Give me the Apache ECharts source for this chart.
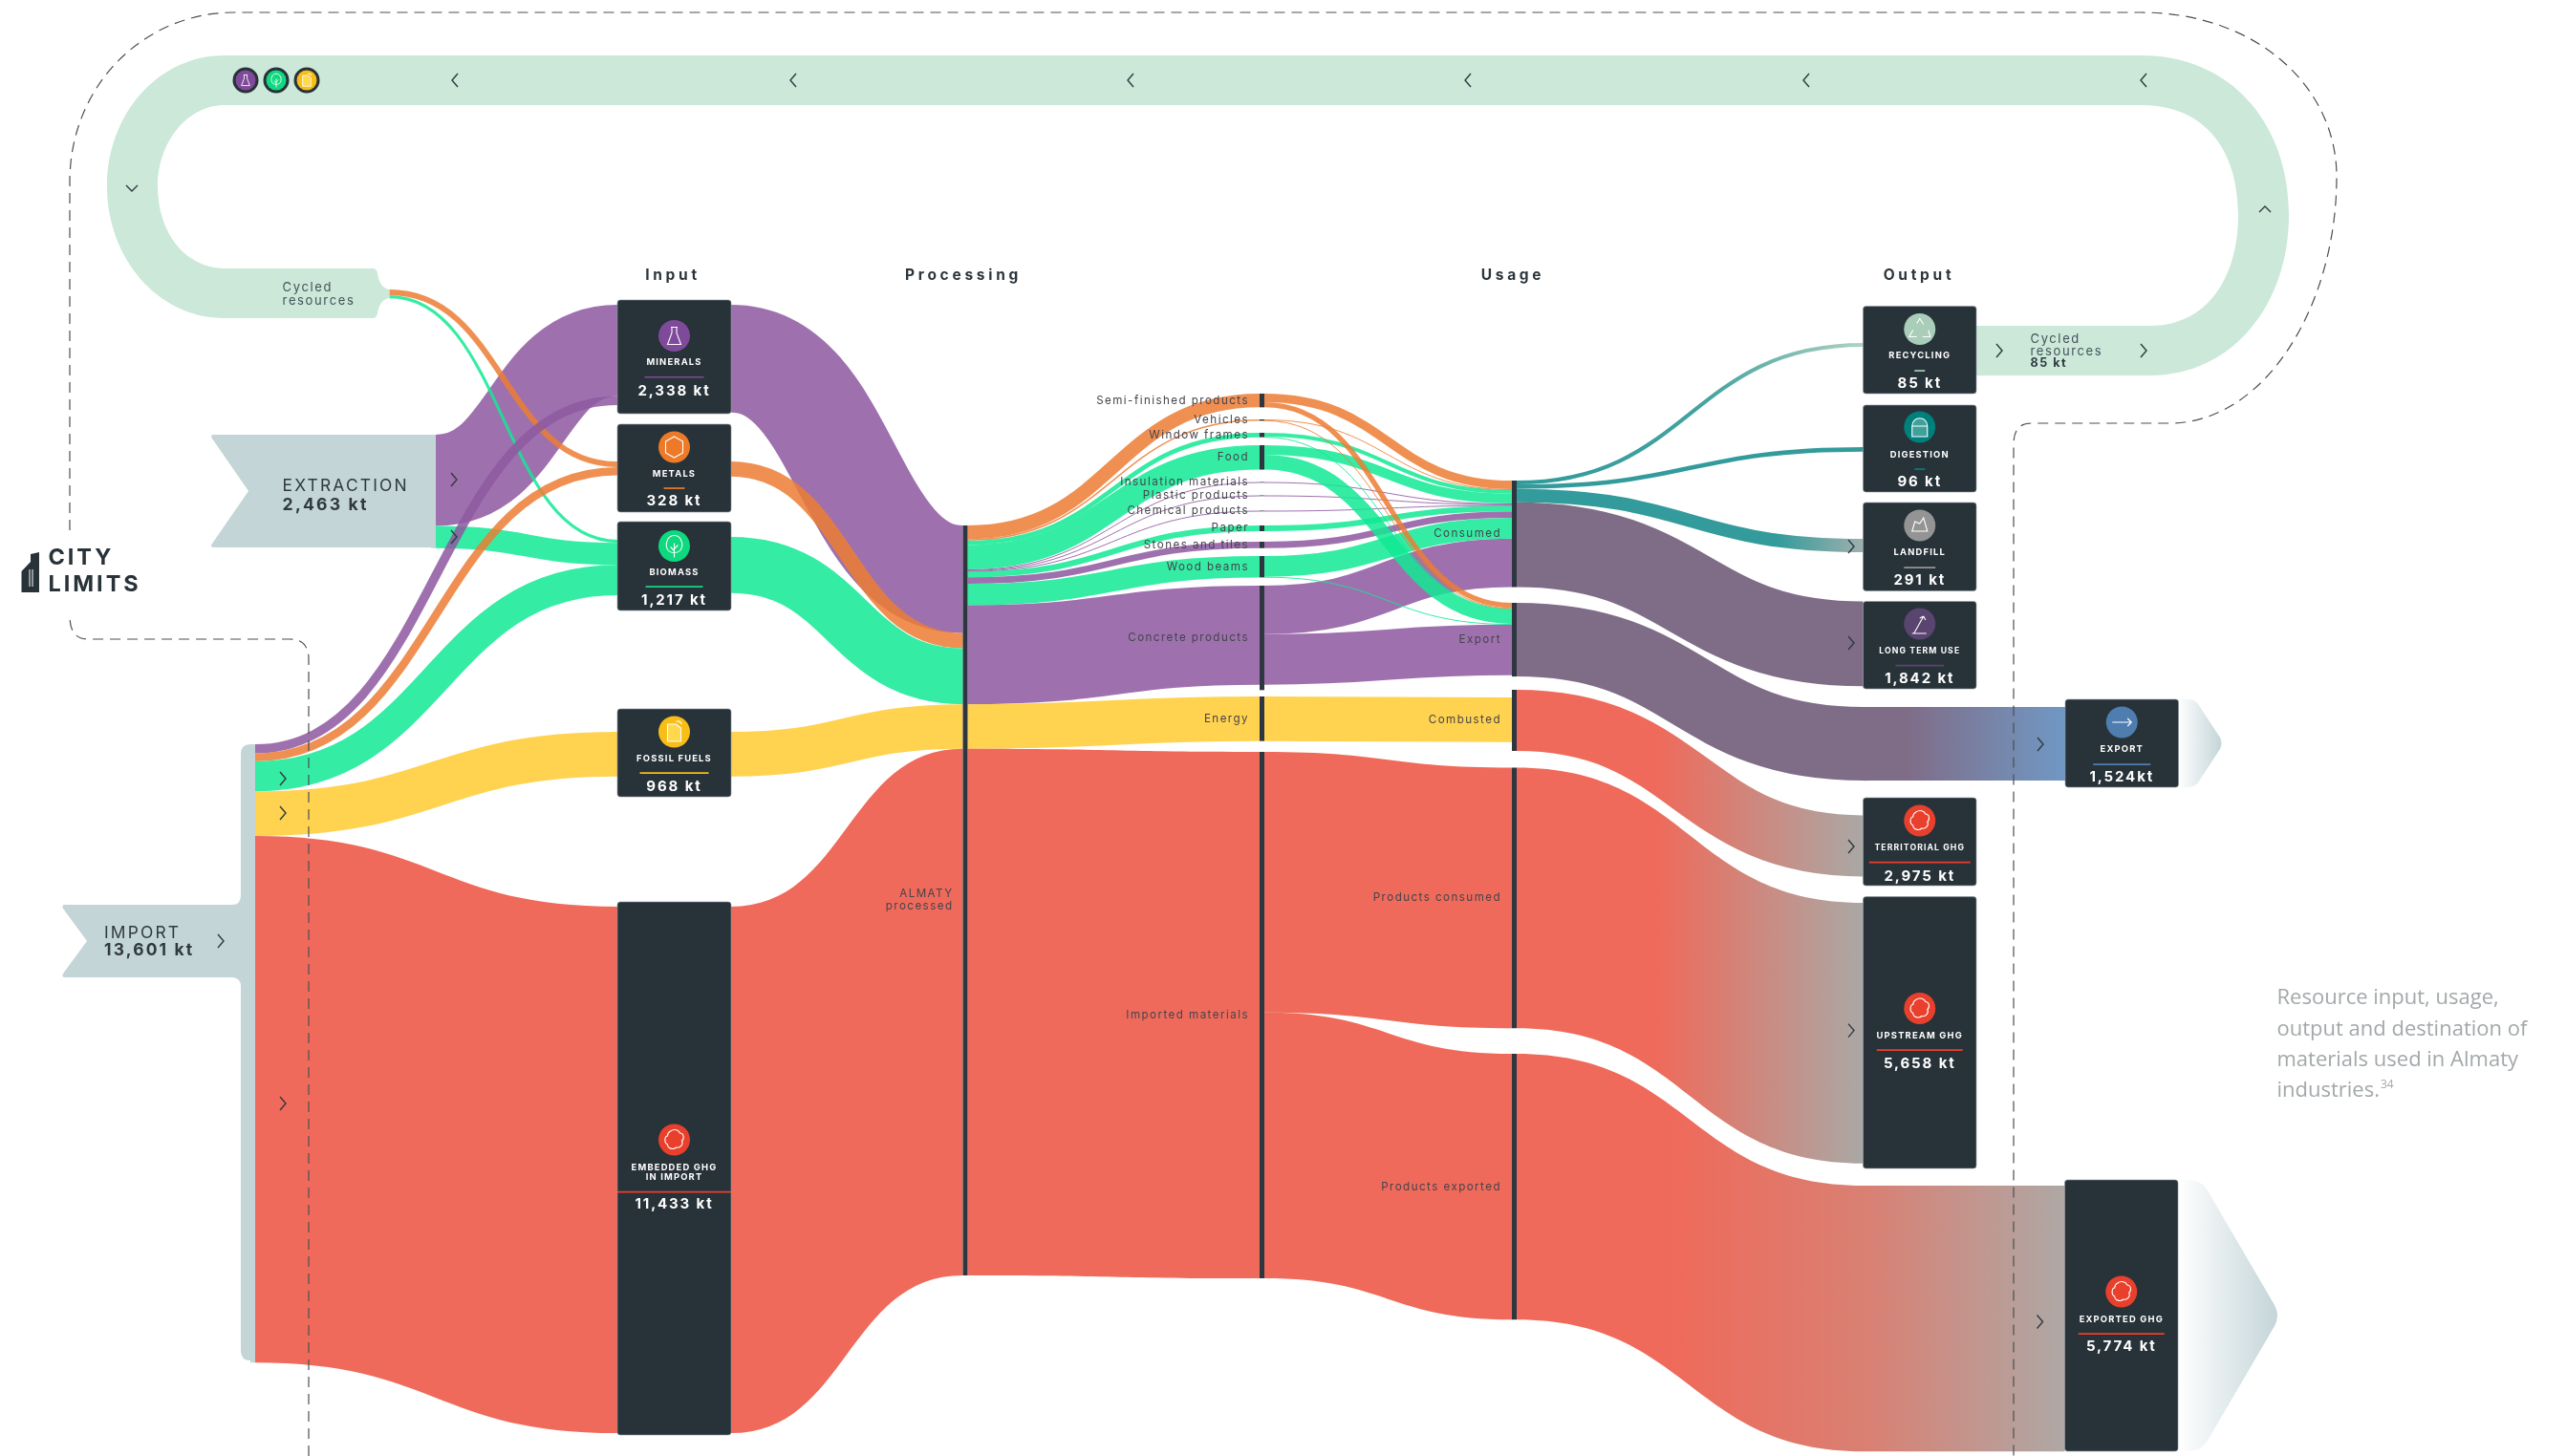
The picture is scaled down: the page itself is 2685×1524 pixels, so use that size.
<!DOCTYPE html>
<html><head><meta charset="utf-8">
<style>html,body{margin:0;padding:0;background:#fff}#c{width:2685px;height:1524px}</style>
<script src="https://cdn.jsdelivr.net/npm/echarts@6/dist/echarts.min.js"></script>
</head><body><div id="c"></div>
<script>
// ---- DATA (kt) ----
const nodeNames = [
 'Cycled out','Extraction','Import',
 'Minerals in','Metals in','Biomass in','Fossil in','Embedded in',
 'Minerals out','Metals out','Biomass out','Fossil out','Embedded out',
 'Processed',
 'Semi-finished products','Vehicles','Window frames','Food','Insulation materials','Plastic products','Chemical products','Paper','Stones and tiles','Wood beams','Concrete products','Energy','Imported materials',
 'Consumed','Export','Combusted in','Combusted','Products consumed','Products exported',
 'Recycling','Digestion','Landfill','Long term use','Export pass','Territorial GHG','Upstream GHG','Exported pass',
 'Export card','Exported GHG'
];
const linkSources = [
 'Extraction','Extraction','Cycled out','Cycled out',
 'Import','Import','Import','Import','Import',
 'Minerals in','Metals in','Biomass in','Fossil in','Embedded in',
 'Minerals out','Metals out','Biomass out','Fossil out','Embedded out',
 'Processed','Processed','Processed','Processed','Processed','Processed','Processed','Processed','Processed','Processed','Processed','Processed','Processed',
 'Concrete products','Concrete products','Wood beams','Wood beams','Stones and tiles','Paper','Chemical products','Plastic products','Insulation materials','Food','Food','Window frames','Window frames','Vehicles','Vehicles','Semi-finished products','Semi-finished products',
 'Energy','Imported materials','Imported materials',
 'Consumed','Consumed','Consumed','Consumed','Export','Combusted','Products consumed','Products exported',
 'Export pass','Exported pass'
];
const linkTargets = [
 'Minerals in','Biomass in','Metals in','Biomass in',
 'Minerals in','Metals in','Biomass in','Fossil in','Embedded in',
 'Minerals out','Metals out','Biomass out','Fossil out','Embedded out',
 'Processed','Processed','Processed','Processed','Processed',
 'Semi-finished products','Vehicles','Window frames','Food','Insulation materials','Plastic products','Chemical products','Paper','Stones and tiles','Wood beams','Concrete products','Energy','Imported materials',
 'Consumed','Export','Consumed','Export','Consumed','Consumed','Consumed','Consumed','Consumed','Consumed','Export','Consumed','Export','Consumed','Export','Consumed','Export',
 'Combusted in','Products consumed','Products exported',
 'Recycling','Digestion','Landfill','Long term use','Export pass','Territorial GHG','Upstream GHG','Exported pass',
 'Export card','Exported GHG'
];
const linkValues = [
 1981,482,125,65,
 197,174,654,968,11433,
 2338,328,1217,968,11433,
 2338,328,1217,968,11433,
 298,30,97,530,16,16,16,125,140,465,2150,968,11433,
 1054,1096,450,15,140,125,16,16,16,210,320,85,12,15,15,187,111,
 968,5658,5774,
 85,96,291,1842,1600,1328,5658,5774,
 1600,5774
];
const linkKinds = [
 'purple','green','orange','green',
 'purple','orange','green','yellow','red',
 'none','none','none','none','none',
 'purple','orange','green','yellow','red',
 'orange','orange','green','green','purple','purple','purple','green','purple','green','purple','yellow','red',
 'purple','purple','green','green','purple','green','purple','purple','purple','green','green','green','green','orange','orange','orange','orange',
 'yellow','red','red',
 'toRecycle','teal','toLandfill','slate','slate','toGreyA','toGreyA','toGreyB',
 'toBlue','toGreyC'
];
const tickTitles = ['Input','Processing','Usage','Output'];

// ---- STYLE & LAYOUT ----
const pxPerKt = 0.0482, W = 2685;
const nodeColumn = {};
[[0,3],[3,8],[8,13],[13,14],[14,27],[27,33],[33,41],[41,43]].forEach((r,c)=>{for(let i=r[0];i<r[1];i++)nodeColumn[nodeNames[i]]=c;});
const nodePos = {
 'Cycled out':[402.5,303],'Extraction':[451,455],'Import':[262,779],
 'Minerals in':[646,319],'Metals in':[646,483],'Biomass in':[646,565],'Fossil in':[646,766],'Embedded in':[646,949],
 'Minerals out':[760,319],'Metals out':[760,483],'Biomass out':[760,562],'Fossil out':[760,766],'Embedded out':[760,949],
 'Processed':[1007.5,550],
 'Semi-finished products':[1318,412],'Vehicles':[1318,439],'Window frames':[1318,453],'Food':[1318,466],'Insulation materials':[1318,504.5],'Plastic products':[1318,518.5],'Chemical products':[1318,534.5],'Paper':[1318,550],'Stones and tiles':[1318,567],'Wood beams':[1318,582],'Concrete products':[1318,613],'Energy':[1318,729],'Imported materials':[1318,787],
 'Consumed':[1582,503],'Export':[1582,631],'Combusted in':[1582,730],'Combusted':[1582,722],'Products consumed':[1582,803.5],'Products exported':[1582,1103],
 'Recycling':[1949.5,359],'Digestion':[1949.5,468],'Landfill':[1949.5,564],'Long term use':[1949.5,629.5],'Export pass':[1950,740],'Territorial GHG':[1949.5,853.5],'Upstream GHG':[1949.5,945],'Exported pass':[1950,1241],
 'Export card':[2161,740],'Exported GHG':[2160.5,1241]
};
const hiddenNodes = new Set(['Cycled out','Combusted in','Minerals in','Metals in','Biomass in','Fossil in','Embedded in','Minerals out','Metals out','Biomass out','Fossil out','Embedded out','Recycling','Digestion','Landfill','Long term use','Export card','Territorial GHG','Upstream GHG','Exported GHG']);
const nodeColours = {'Extraction':'#c4d5d8','Import':'#c4d5d8','Export pass':'#7f6d88','Exported pass':'#d98073'};
const nodeLabels = {'Processed':'ALMATY\nprocessed','Semi-finished products':1,'Vehicles':1,'Window frames':1,'Food':1,'Insulation materials':1,'Plastic products':1,'Chemical products':1,'Paper':1,'Stones and tiles':1,'Wood beams':1,'Concrete products':1,'Energy':1,'Imported materials':1,'Consumed':1,'Export':1,'Combusted':1,'Products consumed':1,'Products exported':1};
const nodeMinValue = {'Concrete products':2268};

const grad = (stops)=>({type:'linear',x:0,y:0,x2:1,y2:0,colorStops:stops.map(s=>({offset:s[0],color:s[1]}))});
const kinds = {
 purple:{color:'#8d58a0',opacity:.85}, orange:{color:'#ec7d34',opacity:.85}, green:{color:'#10e994',opacity:.85},
 yellow:{color:'#ffca31',opacity:.85}, red:{color:'#ec503d',opacity:.85}, none:{color:'#fff',opacity:0},
 teal:{color:'#339b9b',opacity:1}, slate:{color:'#7f6d88',opacity:1},
 toRecycle:{color:grad([[0,'#2e9a9a'],[.55,'#45a3a0'],[1,'#aed3c2']]),opacity:1},
 toLandfill:{color:grad([[0,'#339b9b'],[.75,'#339b9b'],[1,'#9fb0ae']]),opacity:1},
 toBlue:{color:grad([[0,'#7f6d88'],[.2,'#7f6d88'],[1,'#7098c4']]),opacity:1},
 toGreyA:{color:grad([[0,'#ef6a5a'],[.4,'#ef6a5a'],[1,'#aaa8a5']]),opacity:1},
 toGreyB:{color:grad([[0,'#ef6a5a'],[.45,'#ef6a5a'],[1,'#d98073']]),opacity:1},
 toGreyC:{color:grad([[0,'#d98073'],[1,'#aea8a5']]),opacity:1}
};

// sankey height is chosen so that the library's own scale equals pxPerKt
const nodeIn={},nodeOut={};
linkValues.forEach((v,i)=>{nodeOut[linkSources[i]]=(nodeOut[linkSources[i]]||0)+v;nodeIn[linkTargets[i]]=(nodeIn[linkTargets[i]]||0)+v;});
const colSum={};
nodeNames.forEach(n=>{const c=nodeColumn[n];colSum[c]=(colSum[c]||0)+Math.max(nodeIn[n]||0,nodeOut[n]||0,nodeMinValue[n]||0);});
const H = Math.max(...Object.values(colSum))*pxPerKt;

const nodes = nodeNames.map(n=>{
 const hid = hiddenNodes.has(n), lab = nodeLabels[n];
 const o = {name:n,depth:nodeColumn[n],localX:nodePos[n][0]/W,localY:nodePos[n][1]/H,
  itemStyle:{color:nodeColours[n]||'#2e3640',opacity:hid?0:1,borderWidth:0},
  label:lab?{show:true,position:'left',distance:n==='Processed'?10:11,formatter:lab===1?n:lab,align:'right',color:'#44444c',fontFamily:'Inter',fontSize:11.6,lineHeight:13}:{show:false}};
 if(nodeMinValue[n]) o.value=nodeMinValue[n];
 return o;
});
const links = linkValues.map((v,i)=>({source:linkSources[i],target:linkTargets[i],value:v,lineStyle:Object.assign({curveness:.5},kinds[linkKinds[i]])}));

// letter spacing for the wide display text
const _ft = CanvasRenderingContext2D.prototype.fillText;
CanvasRenderingContext2D.prototype.fillText = function(t,x,y,m){
 const f=this.font||''; const s=/(\d+(?:\.\d+)?)px/.exec(f);
 const em = tickTitles.indexOf(t)>=0 ? .24 : .125;
 this.letterSpacing = (f.indexOf('Inter')>=0&&s)?(parseFloat(s[1])*em).toFixed(2)+'px':'0px';
 return m===undefined?_ft.call(this,t,x,y):_ft.call(this,t,x,y,m);
};

// ---- DECORATION ----
const g=[];
const INK='#283239', PALE='#cbe8d9', STEEL='#c4d5d8';
let shapeCount=0;
const path=(d,style,z,x,y,sc)=>{const nm='decoPath'+(shapeCount++);echarts.graphic.registerShape(nm,echarts.graphic.extendPath(d));g.push({type:nm,z:z,x:x||0,y:y||0,scaleX:sc||1,scaleY:sc||1,silent:true,style:style});};
const text=(t,x,y,font,fill,align,z)=>g.push({type:'text',z:z||60,silent:true,style:{text:t,x:x,y:y,font:font,fill:fill,align:align||'left',verticalAlign:'middle'}});
const IF=(w,s)=>`${w} ${s}px Inter`;

// cycled resources loop
path('M2068,341 H2250 C2310,341 2342,290 2342,225 C2342,160 2310,110 2240,110 H235 C195,110 165,150 165,195 C165,245 195,281 235,281 H390 Q394,281 395,286 Q397,301 407,303 V312 Q397,314 395,328 Q394,333 390,333 H235 C165,333 112,270 112,195 C112,120 165,58 235,58 H2240 C2335,58 2395,130 2395,225 C2395,320 2335,393 2250,393 H2068 Z',{fill:PALE},0);
// extraction + import flags
path('M224,455 H456 V573 H224 Q219,573 222,569 L260,514 L222,459 Q219,455 224,455 Z',{fill:STEEL},1);
path('M68,947 H243 Q252,947 252,937 V789 Q252,779 262,779 H267 V1424 H262 Q252,1424 252,1414 V1033 Q252,1023 243,1023 H68 Q64,1023 66,1019 L91,985 L66,951 Q64,947 68,947 Z',{fill:STEEL},1);
// city limits dashed border
path('M323,1524 V690 Q323,669 303,669 H92 Q73,669 73,645 M73,555 V190 C73,90 150,13 245,13 H2240 C2360,13 2445,90 2445,185 C2445,320 2370,443 2270,443 H2125 Q2107,443 2107,465 V1524',{fill:'none',stroke:'#4a4f55',lineWidth:1.2,lineDash:[11,7]},10);
// export arrows
path('M2279,732 H2290 Q2298,732 2302,740 L2323,772 Q2326,778 2323,784 L2302,816 Q2298,824 2290,824 H2279 Z',{fill:{type:'linear',x:0,y:0,x2:1,y2:0,colorStops:[{offset:0,color:'#ffffff'},{offset:1,color:'#c4d5d8'}]}},3);
path('M2279,1235 H2290 Q2304,1235 2311,1248 L2380,1366 Q2386,1377 2380,1388 L2311,1506 Q2304,1519 2290,1519 H2279 Z',{fill:{type:'linear',x:0,y:0,x2:1,y2:0,colorStops:[{offset:0,color:'#ffffff'},{offset:1,color:'#c4d5d8'}]}},3);

const icons={
 flask:'M-3.5,-9 H3.5 M-2.5,-9 V-3 L-7,9 H7 L2.5,-3 V-9',
 hex:'M0,-11 L9,-6 V6 L0,11 L-9,6 V-6 Z',
 tree:'M0,-11 C7,-11 9,-3 8,1 C7,6 3,7 0,7 C-3,7 -7,6 -8,1 C-9,-3 -7,-11 0,-11 Z M0,-3 V12 M0,3 L4,-1 M0,5 L-4,1',
 can:'M-7,-8 H2 L7,-4 V10 H-7 Z M2,-11 H6 L8,-8',
 cloud:'M-4,-9 C0,-12 5,-10 6,-7 C10,-7 11,-1 8,1 C10,5 6,9 2,8 C-1,11 -7,9 -7,5 C-11,3 -10,-4 -7,-4 C-7,-7 -6,-8 -4,-9 Z',
 recycle:'M-3,-6 L0,-11 L4,-5 M9,1 L11,8 H3 M-3,8 H-11 L-7,1',
 bag:'M-8,-1 C-8,-12 8,-12 8,-1 V10 H-8 Z M-8,-1 H8',
 pile:'M-8,6 L-5,-4 L0,-2 L4,-8 L8,6 Z',
 term:'M-8,10 H7 M-6,10 L4,-8 M4,-8 L0,-6 M4,-8 L6,-4',
 arrow:'M-10,0 H10 M6,-4 L10,0 L6,4'
};
const C={purple:'#7f4a9a',orange:'#ec7a28',green:'#0ed97f',yellow:'#f8bd16',red:'#e8402c',sage:'#a9cdb8',teal:'#00807a',grey:'#949494',plum:'#5a4570',blue:'#4f7db0'};
const iconStyle=(ic)=>({fill:ic==='can'?'#ffd84d':(ic==='bag'?'rgba(255,255,255,.25)':'none'),stroke:'#fff',lineWidth:1.1});
const badge=(cx,cy,r,col,ic,z)=>{
 g.push({type:'circle',z:z,silent:true,shape:{cx:cx,cy:cy,r:r},style:{fill:col}});
 if(ic) path(icons[ic],iconStyle(ic),z+1,cx,cy);
};
// x0,x1,y0,y1, name(s), value, colour, icon, iconY,labelY,ruleY,ruleW,valueY
const cards=[
 [646,765,314,433,['MINERALS'],'2,338 kt',C.purple,'flask',351.5,379.5,394.7,62,409],
 [646,765,444,536,['METALS'],'328 kt',C.orange,'hex',468,496.6,511,22,524.6],
 [646,765,546,639,['BIOMASS'],'1,217 kt',C.green,'tree',571.5,599.5,614,60,628],
 [646,765,742,834,['FOSSIL FUELS'],'968 kt',C.yellow,'can',766,794.6,809,72,823],
 [646,765,944,1502,['EMBEDDED GHG','IN IMPORT'],'11,433 kt',C.red,'cloud',1193,1222,1247.6,119,1260.7],
 [1949.5,2068,320.6,412,['RECYCLING'],'85 kt',C.sage,'recycle',344.5,372.5,388,11,401],
 [1949.5,2068,424,515,['DIGESTION'],'96 kt',C.teal,'bag',447,476,491,11,504],
 [1949.5,2068,526,618.5,['LANDFILL'],'291 kt',C.grey,'pile',550,578.5,594,33,607],
 [1949.5,2068,629.5,721,['LONG TERM USE'],'1,842 kt',C.plum,'term',653,681,696.5,51,710],
 [1949.5,2068,835,927,['TERRITORIAL GHG'],'2,975 kt',C.red,'cloud',859,887.5,902.6,106,917],
 [1949.5,2068,938.6,1223,['UPSTREAM GHG'],'5,658 kt',C.red,'cloud',1055.5,1084,1099,90,1113],
 [2161,2279.5,732,824,['EXPORT'],'1,524kt',C.blue,'arrow',756,784.6,800,60,813.6],
 [2160.5,2279,1235,1519,['EXPORTED GHG'],'5,774 kt',C.red,'cloud',1352,1381,1396,90,1409]
];
cards.forEach(k=>{
 const [x0,x1,y0,y1,names,val,col,ic,iy,ly,ry,rw,vy]=k, cx=(x0+x1)/2;
 g.push({type:'rect',z:50,silent:true,shape:{x:x0,y:y0,width:x1-x0,height:y1-y0,r:3},style:{fill:INK,stroke:'#8e989d',lineWidth:.6}});
 badge(cx,iy,16.5,col,ic,51);
 names.forEach((n,i)=>text(n,cx,ly+i*10.5,IF('bold',names[0].length>12?8.7:9.4),'#ffffff','center'));
 g.push({type:'rect',z:55,silent:true,shape:{x:cx-rw/2,y:ry-.8,width:rw,height:1.7},style:{fill:col}});
 text(val,cx,vy,IF('bold',15),'#ffffff','center');
});
// header titles
[704,1008,1583,2008].forEach((x,i)=>text(tickTitles[i],x,288,IF('bold',15.5),'#2c353b','center'));
// flags text
text('EXTRACTION',295.6,509,IF('normal',17.4),'#2f3a40');
text('2,463 kt',295.6,528.5,IF('bold',17.6),'#2f3a40');
text('IMPORT',109,976.5,IF('normal',17.4),'#2f3a40');
text('13,601 kt',109,995,IF('bold',17.4),'#2f3a40');
text('Cycled',295.6,301.5,IF('normal',13),'#44525a');
text('resources',295.6,315,IF('normal',13),'#44525a');
text('Cycled',2124.5,355,IF('normal',13),'#44525a');
text('resources',2124.5,368,IF('normal',13),'#44525a');
text('85 kt',2124.5,380.7,IF('bold',12.5),'#2f3a40');
// logo
path('M22.5,620 V598 L32,588 V580 L41,578 V620 Z',{fill:INK},60);
path('M31,596 V614 M34,596 V614',{fill:'none',stroke:'#fff',lineWidth:1},61);
text('CITY',50.5,584,IF('bold',23.5),INK);
text('LIMITS',50.5,612,IF('bold',23.5),INK);
// caption
['Resource input, usage,','output and destination of','materials used in Almaty','industries.'].forEach((t,i)=>text(t,2382.5,1045+i*32.3,'22px "Open Sans"','#a3a8aa'));
text('34',2491,1136,'12px "Open Sans"','#a3a8aa');
// direction chevrons
const chev={r:'M-3,-7 L3,0 L-3,7',l:'M3,-7 L-3,0 L3,7',d:'M-6,-3 L0,3 L6,-3',u:'M-6,3 L0,-3 L6,3'};
[[476,84,'l'],[830,84,'l'],[1183,84,'l'],[1536,84,'l'],[1890,84,'l'],[2243,84,'l'],[138,197,'d'],[2370,219,'u'],[2092,367,'r'],[2243,367,'r'],
 [475,502,'r'],[475,562,'r'],[296,815,'r'],[296,851,'r'],[296,1155,'r'],[231,985,'r'],
 [1937,572,'r'],[1937,673,'r'],[2135,779,'r'],[1937,886,'r'],[1937,1078.6,'r'],[2134.5,1383.5,'r']
].forEach(a=>path(chev[a[2]],{fill:'none',stroke:'#2f3a40',lineWidth:1.4},60,a[0],a[1]));
// stacked resource badges on loop
[[257,C.purple,'flask'],[289,C.green,'tree'],[321,C.yellow,'can']].forEach(b=>{
 g.push({type:'circle',z:4,silent:true,shape:{cx:b[0],cy:84,r:13.5},style:{fill:INK}});
 g.push({type:'circle',z:5,silent:true,shape:{cx:b[0],cy:84,r:10.5},style:{fill:b[1]}});
 path(icons[b[2]],Object.assign(iconStyle(b[2]),{lineWidth:1.4}),6,b[0],84,.62);
});

const chart=echarts.init(document.getElementById('c'),null,{renderer:'canvas'});
chart.setOption({
 animation:false,backgroundColor:'#ffffff',
 series:[{type:'sankey',left:0,top:0,width:W,height:H,nodeWidth:5,nodeGap:0,nodeAlign:'left',layoutIterations:0,draggable:false,
  emphasis:{disabled:true},silent:true,data:nodes,links:links,z:2}],
 graphic:{elements:g}
});

// the reference's narrower flows keep a constant thickness along the curve: those sankey
// links are re-stroked along their own centre line (the layout stays the library's);
// the very wide GHG flows stay as the library's plain ribbons, as in the reference
const ribbonAbovePx = 200;
chart.getZr().storage.getDisplayList(true).forEach(e=>{
 const s=e.shape;
 if(!s||s.extent==null||s.cpx1==null||s.extent>ribbonAbovePx) return;
 const off=s.extent/2, fill=e.style.fill;
 const stroke=(fill&&fill.colorStops)?{type:'linear',global:true,x:s.x1,y:0,x2:s.x2,y2:0,colorStops:fill.colorStops}:fill;
 e.buildPath=function(ctx,sh){ctx.moveTo(sh.x1,sh.y1+off);ctx.bezierCurveTo(sh.cpx1,sh.cpy1+off,sh.cpx2,sh.cpy2+off,sh.x2,sh.y2+off);};
 e.style.fill=null; e.style.stroke=stroke; e.style.lineWidth=s.extent;
 e.dirty(); e.dirtyShape();
});
chart.getZr().refresh();
</script></body></html>
